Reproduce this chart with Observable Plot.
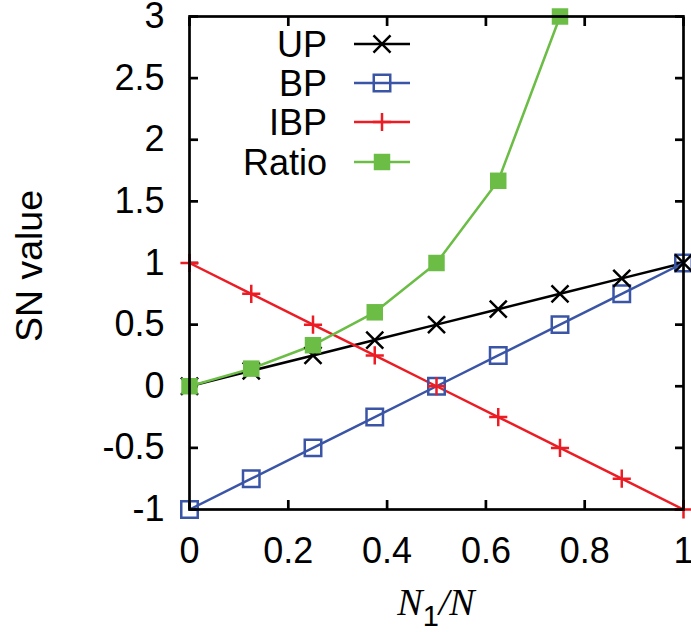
<!DOCTYPE html>
<html>
<head>
<meta charset="utf-8">
<script src="https://cdn.jsdelivr.net/npm/d3@7"></script>
<script src="https://cdn.jsdelivr.net/npm/@observablehq/plot@0.6"></script>
<style>
  html, body { margin: 0; padding: 0; background: #fff; }
  #chart svg { display: block; overflow: visible; }
</style>
</head>
<body>
<div id="chart"></div>
<script>
// ---- data ----
const xValues = [0, 0.125, 0.25, 0.375, 0.5, 0.625, 0.75, 0.875, 1];
const upValues = [0, 0.125, 0.25, 0.375, 0.5, 0.625, 0.75, 0.875, 1];
const bpValues = [-1, -0.75, -0.5, -0.25, 0, 0.25, 0.5, 0.75, 1];
const ibpValues = [1, 0.75, 0.5, 0.25, 0, -0.25, -0.5, -0.75, -1];
const ratioX = [0, 0.125, 0.25, 0.375, 0.5, 0.625, 0.75];
const ratioValues = [0, 0.143, 0.333, 0.6, 1, 1.667, 3];

const seriesNames = ["UP", "BP", "IBP", "Ratio"];
const seriesColors = ["#000000", "#3b55a6", "#ec1c24", "#6bbd45"];
const seriesSymbols = ["times", "square", "plus", "square"];

const xTicks = [0, 0.2, 0.4, 0.6, 0.8, 1];
const yTicks = [-1, -0.5, 0, 0.5, 1, 1.5, 2, 2.5, 3];
const xLabel = ["N", "1", "/N"];
const yLabel = "SN value";

// build tables
const up = xValues.map((x, i) => ({x, y: upValues[i]}));
const bp = xValues.map((x, i) => ({x, y: bpValues[i]}));
const ibp = xValues.map((x, i) => ({x, y: ibpValues[i]}));
const ratio = ratioX.map((x, i) => ({x, y: ratioValues[i]}));
const tables = [up, bp, ibp, ratio];

const symbolR = {times: 7.8, square: 9.3, plus: 5.9};
const filled = [false, false, false, true];

const W = 691, H = 632;
const font = "Liberation Sans, Arial, Helvetica, sans-serif";
const serif = "Liberation Serif, Times New Roman, serif";
const fmt = d => String(d);

const lineMarks = tables.map((t, i) =>
  Plot.line(t, {x: "x", y: "y", stroke: seriesColors[i], strokeWidth: 2.5})
);
const dotOrder = [1, 0, 2, 3];
const dotMarks = dotOrder.map(i =>
  Plot.dot(tables[i], {
    x: "x", y: "y",
    symbol: seriesSymbols[i],
    r: symbolR[seriesSymbols[i]],
    stroke: filled[i] ? "none" : seriesColors[i],
    fill: filled[i] ? seriesColors[i] : "none",
    strokeWidth: 2.5
  })
);

const chart = Plot.plot({
  width: W,
  height: H,
  marginLeft: 189,
  marginRight: 8,
  marginTop: 16,
  marginBottom: 123,
  style: {fontFamily: font, background: "#fff", overflow: "visible"},
  x: {domain: [0, 1]},
  y: {domain: [-1, 3]},
  marks: [
    // tick labels
    Plot.axisX({ticks: xTicks, tickSize: 0, tickPadding: 28, tickFormat: fmt, fontSize: 36, label: null, fill: "#000"}),
    Plot.axisY({ticks: yTicks, tickSize: 0, tickPadding: 25, tickFormat: fmt, fontSize: 36, label: null, fill: "#000"}),
    // inward tick marks on all four sides
    Plot.axisX({anchor: "bottom", ticks: xTicks, tickSize: -9, tickFormat: () => "", label: null, strokeWidth: 2.7, stroke: "#000"}),
    Plot.axisX({anchor: "top", ticks: xTicks, tickSize: -9, tickFormat: () => "", label: null, strokeWidth: 2.7, stroke: "#000"}),
    Plot.axisY({anchor: "left", ticks: yTicks, tickSize: -9, tickFormat: () => "", label: null, strokeWidth: 2.7, stroke: "#000"}),
    Plot.axisY({anchor: "right", ticks: yTicks, tickSize: -9, tickFormat: () => "", label: null, strokeWidth: 2.7, stroke: "#000"}),
    ...lineMarks,
    ...dotMarks,
    Plot.frame({stroke: "#000", strokeWidth: 2.7})
  ]
});

document.getElementById("chart").appendChild(chart);

const svg = d3.select(chart);

// y label
svg.append("text")
  .attr("transform", "translate(42,266) rotate(-90)")
  .attr("text-anchor", "middle")
  .attr("font-family", font)
  .attr("font-size", 37.5)
  .attr("fill", "#000")
  .text(yLabel);

// x label: N_1/N
const xl = svg.append("text")
  .attr("x", 436)
  .attr("y", 615)
  .attr("text-anchor", "middle")
  .attr("font-size", 38)
  .attr("fill", "#000");
xl.append("tspan").attr("font-family", serif).attr("font-style", "italic").text(xLabel[0]);
xl.append("tspan").attr("font-family", font).attr("font-size", 29).attr("dy", 11).text(xLabel[1]);
xl.append("tspan").attr("font-family", serif).attr("font-style", "italic").attr("dy", -11).text(xLabel[2]);

// legend
const legendRows = [44, 83, 122, 162];
const lg = svg.append("g");
seriesNames.forEach((name, i) => {
  const y = legendRows[i];
  lg.append("text")
    .attr("x", 327).attr("y", y)
    .attr("dy", "0.36em")
    .attr("text-anchor", "end")
    .attr("font-family", font)
    .attr("font-size", 36)
    .attr("fill", "#000")
    .text(name);
  lg.append("line")
    .attr("x1", 354).attr("x2", 410).attr("y1", y).attr("y2", y)
    .attr("stroke", seriesColors[i]).attr("stroke-width", 2.5);
  const symType = {times: d3.symbolTimes, square: d3.symbolSquare, plus: d3.symbolPlus}[seriesSymbols[i]];
  const r = symbolR[seriesSymbols[i]];
  lg.append("path")
    .attr("transform", `translate(382,${y})`)
    .attr("d", d3.symbol(symType, Math.PI * r * r)())
    .attr("fill", filled[i] ? seriesColors[i] : "none")
    .attr("stroke", filled[i] ? "none" : seriesColors[i])
    .attr("stroke-width", 2.5);
});
</script>
</body>
</html>
